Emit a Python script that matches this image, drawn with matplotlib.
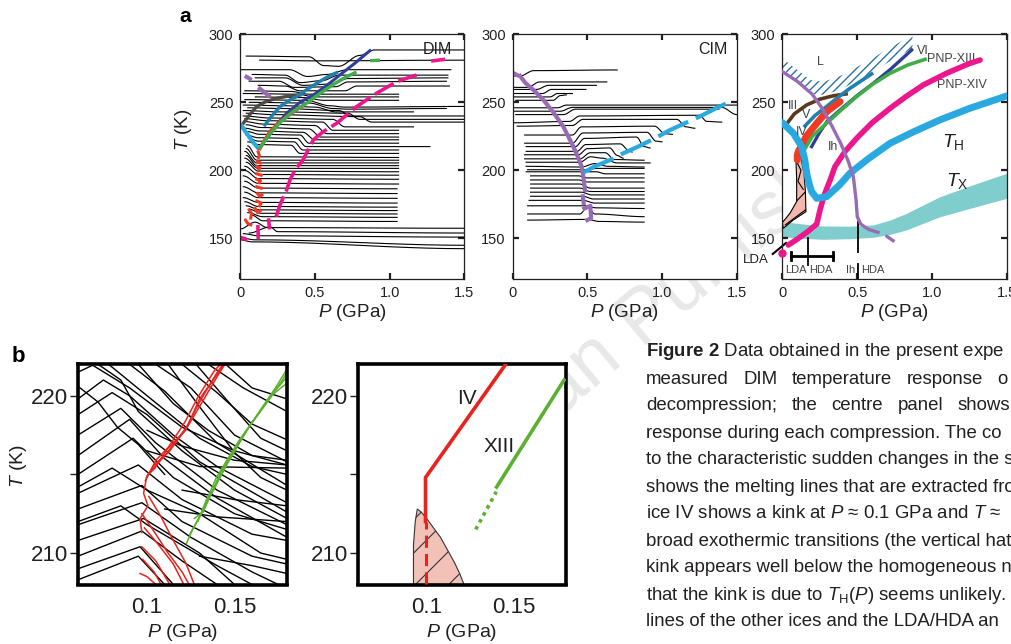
import numpy as np
import matplotlib
matplotlib.use('Agg')
import matplotlib.pyplot as plt
from matplotlib.patches import Polygon

plt.rcParams['font.family'] = ['Liberation Sans', 'DejaVu Sans']
plt.rcParams['mathtext.fontset'] = 'custom'
plt.rcParams['mathtext.rm'] = 'Liberation Sans'
plt.rcParams['mathtext.it'] = 'Liberation Sans:italic'
plt.rcParams['mathtext.bf'] = 'Liberation Sans:bold'
plt.rcParams['hatch.linewidth'] = 0.8

INK = '#231f20'
PURPLE = '#9a6bb5'; CYAN = '#2aa9e0'; TEAL = '#1f7fae'; NAVY = '#2f3f99'
GREEN = '#3fae49'; RED = '#ef3b24'; PINK = '#ec178c'; BROWN = '#5b3a1c'
DGRAY = '#4e4a44'; BAND = '#7fcdcd'; SALMON = '#f3b8ad'; LHATCH = '#2a72a4'
BRED = '#e8231e'; BGREEN = '#5cb030'; WMARK = '#e8e8e8'

# ---------------- data: panel a, DIM ----------------
dim_traces = [
    [(0.04, 284.0), (0.46, 283.5), (0.56, 277.0), (0.66, 276.5), (0.80, 284.5), (0.90, 288.5), (1.50, 288.5)],
    [(0.13, 281.0), (0.50, 280.5), (1.50, 281.0)],
    [(0.00, 274.0), (0.33, 274.0), (0.45, 269.0), (0.58, 270.5), (0.72, 274.0), (1.41, 274.0)],
    [(0.08, 270.5), (0.30, 270.0), (0.40, 264.5), (0.55, 266.0), (0.66, 270.0), (1.39, 270.0)],
    [(0.10, 268.0), (0.30, 268.0), (0.42, 262.5), (0.62, 263.5), (0.72, 267.5), (1.39, 268.0)],
    [(0.06, 265.5), (0.26, 265.5), (0.36, 261.0), (0.64, 261.5), (0.72, 265.0), (1.38, 265.5)],
    [(0.12, 262.5), (0.30, 262.0), (0.40, 258.5), (0.70, 258.5), (0.78, 262.0), (1.40, 262.0)],
    [(0.03, 258.5), (0.34, 258.0), (0.46, 256.0), (1.06, 256.0)],
    [(0.02, 256.5), (0.38, 256.0), (0.50, 254.0), (1.06, 254.0)],
    [(0.10, 254.0), (0.42, 253.5), (0.56, 251.5), (1.06, 251.5)],
    [(0.03, 252.0), (0.44, 251.5), (0.60, 247.5), (0.70, 246.5), (1.50, 247.0)],
    [(0.06, 250.0), (0.46, 249.5), (0.62, 245.5), (0.72, 245.0), (1.38, 245.5)],
    [(0.02, 248.0), (0.30, 247.5), (0.50, 246.5), (0.64, 243.0), (1.16, 243.0)],
    [(0.05, 246.0), (0.28, 245.5), (0.66, 244.0), (0.74, 240.0), (1.50, 240.0)],
    [(0.02, 244.0), (0.26, 243.0), (0.72, 242.0), (0.80, 237.5), (1.50, 237.5)],
    [(0.04, 242.0), (0.22, 241.0), (0.80, 239.5), (0.88, 235.5), (1.50, 235.5)],
    [(0.02, 240.0), (0.20, 238.5), (0.62, 237.5), (0.70, 232.0), (1.16, 232.0)],
    [(0.03, 238.0), (0.18, 236.5), (0.55, 235.5), (0.62, 229.5), (1.06, 229.5)],
    [(0.02, 236.0), (0.16, 234.0), (0.50, 233.0), (0.58, 227.0), (1.06, 227.0)],
    [(0.04, 233.5), (0.14, 231.5), (0.46, 230.5), (0.54, 224.5), (1.06, 224.5)],
    [(0.03, 231.0), (0.13, 229.0), (0.42, 228.0), (0.50, 222.5), (1.06, 222.5)],
    [(0.05, 228.5), (0.13, 226.5), (0.40, 226.0), (0.46, 220.0), (1.06, 220.0)],
    [(0.04, 226.0), (0.12, 224.0), (0.38, 223.5), (0.44, 217.5), (1.27, 217.5)],
    [(0.06, 223.5), (0.12, 221.5), (0.36, 221.0), (0.42, 215.0), (1.06, 215.0)],
    [(0.05, 221.0), (0.12, 219.0), (0.34, 218.5), (0.40, 212.5), (1.06, 212.5)],
    [(0.05, 218.0), (0.11, 210.0), (1.06, 209.5)],
    [(0.04, 216.0), (0.11, 207.5), (1.06, 207.5)],
    [(0.03, 214.0), (0.11, 205.5), (1.06, 205.5)],
    [(0.04, 211.0), (0.11, 203.5), (1.06, 203.5)],
    [(0.03, 209.0), (0.12, 201.5), (1.06, 201.5)],
    [(0.04, 206.0), (0.12, 199.5), (1.06, 199.0)],
    [(0.03, 203.0), (0.12, 197.0), (1.06, 196.5)],
    [(0.03, 200.0), (0.12, 194.0), (1.06, 193.5)],
    [(0.02, 196.0), (0.12, 190.5), (1.06, 190.0)],
    [(0.03, 192.0), (0.12, 187.0), (1.05, 186.5)],
    [(0.02, 188.0), (0.12, 183.5), (1.05, 183.0)],
    [(0.03, 184.0), (0.12, 180.0), (1.05, 179.5)],
    [(0.02, 180.0), (0.12, 176.5), (1.05, 176.0)],
    [(0.03, 177.0), (0.12, 173.5), (1.05, 173.0)],
    [(0.04, 174.0), (0.13, 171.0), (1.05, 170.5)],
    [(0.06, 171.5), (0.14, 168.5), (1.05, 168.0)],
    [(0.05, 169.0), (0.15, 166.0), (1.05, 165.5)],
    [(0.08, 167.0), (0.15, 163.0), (1.05, 162.5)],
    [(0.00, 157.0), (0.10, 162.0), (0.18, 158.0), (1.50, 157.5)],
    [(0.06, 154.0), (0.20, 158.5), (0.25, 155.0), (1.50, 154.0)],
    [(0.02, 153.5), (0.12, 152.0), (1.50, 151.0)],
    [(0.00, 150.5), (0.10, 149.0), (1.50, 145.0)],
    [(0.00, 149.0), (0.08, 147.5), (1.50, 142.5)],
]
dim_Ih_pieces = [[(0.03, 269.5), (0.076, 266.5)], [(0.12, 261.0), (0.20, 254.0)]]
dim_III_P = [0.02, 0.06, 0.109, 0.17, 0.243, 0.32, 0.40]
dim_III_T = [234.6, 240.5, 246.9, 250.5, 253.0, 254.5, 255.4]
dim_TH_P = [0.009, 0.042, 0.083, 0.121]
dim_TH_T = [232.7, 227.3, 221.1, 216.2]
dim_V_P = [0.165, 0.215, 0.266, 0.333, 0.377, 0.44, 0.511, 0.58, 0.645]
dim_V_T = [233.4, 240.5, 246.9, 251.8, 254.2, 259.0, 264.0, 268.5, 271.8]
dim_VI_P = [0.1875, 0.25, 0.31, 0.40, 0.489, 0.58, 0.667, 0.77, 0.868]
dim_VI_T = [224.8, 234.5, 242.0, 250.0, 255.4, 262.5, 270.1, 279.0, 288.0]
dim_IV_P = [0.132, 0.165, 0.199, 0.266, 0.33, 0.388, 0.41]
dim_IV_T = [216.2, 222.5, 228.5, 235.8, 241.0, 245.6, 246.9]
dim_IV_bits = [
    [(0.120, 213.5), (0.128, 211.0), (0.122, 209.5)],
    [(0.115, 206.5), (0.135, 205.5)],
    [(0.112, 203.0), (0.132, 202.0), (0.125, 200.5)],
    [(0.110, 197.5), (0.140, 196.5)],
    [(0.110, 193.5), (0.135, 192.5), (0.128, 191.0)],
    [(0.110, 188.0), (0.140, 187.0)],
    [(0.115, 183.0), (0.130, 181.0), (0.145, 182.0)],
    [(0.110, 177.5), (0.140, 176.0), (0.130, 174.0)],
    [(0.060, 171.0), (0.075, 168.5), (0.070, 165.0)],
    [(0.100, 172.0), (0.115, 169.0), (0.135, 170.5)],
    [(0.035, 163.5), (0.050, 161.0), (0.070, 160.0)],
]
dim_XIII_P = [0.132, 0.20, 0.266, 0.35, 0.444, 0.52, 0.60, 0.68, 0.768]
dim_XIII_T = [216.8, 227.0, 235.2, 243.0, 249.3, 255.5, 261.5, 267.0, 271.8]
dim_XIII_bits = [[(0.88, 280.7), (0.924, 280.9)]]
dim_XIV_P = [0.24, 0.266, 0.29, 0.31, 0.333, 0.366, 0.42, 0.489, 0.556, 0.645, 0.779, 0.913, 1.047, 1.18]
dim_XIV_T = [166.0, 174.6, 180.7, 185.6, 193.0, 200.3, 207.7, 222.4, 228.5, 234.6, 246.9, 256.7, 265.2, 270.1]
dim_XIV_bits = [[(0.009, 150.5), (0.035, 149.5)], [(0.118, 158.5), (0.120, 151.0)],
                [(0.19, 163.5), (0.195, 158.0)], [(1.29, 280.5), (1.36, 281.5)]]

# ---------------- data: panel a, CIM ----------------
cim_traces = [
    [(0.00, 269.4), (0.05, 269.4), (0.14, 273.3), (0.70, 273.8)],
    [(0.00, 261.0), (0.10, 261.0), (0.18, 265.0), (0.63, 265.0)],
    [(0.01, 259.5), (0.16, 259.5), (0.24, 262.5), (0.56, 262.5)],
    [(0.00, 256.5), (0.20, 256.5), (0.26, 259.5), (0.49, 259.5)],
    [(0.00, 254.0), (0.25, 254.0), (0.30, 256.5), (0.40, 256.5)],
    [(0.02, 251.5), (0.27, 251.5), (0.32, 255.0), (0.36, 255.5)],
    [(0.00, 246.0), (0.30, 246.0), (0.36, 248.0), (1.50, 248.0)],
    [(0.01, 243.5), (0.32, 243.5), (0.40, 246.3), (1.40, 246.3), (1.50, 241.0)],
    [(0.02, 241.0), (0.34, 241.0), (0.42, 245.0), (1.38, 245.0)],
    [(0.00, 235.0), (0.38, 236.0), (0.45, 240.0), (1.25, 240.5), (1.30, 236.0), (1.40, 235.5)],
    [(0.03, 232.5), (0.40, 233.0), (0.47, 237.5), (1.10, 237.5), (1.16, 232.0), (1.22, 231.0)],
    [(0.08, 226.0), (0.40, 226.0), (0.46, 232.0), (0.95, 232.5), (1.02, 227.0), (1.07, 226.5)],
    [(0.08, 220.0), (0.40, 220.0), (0.47, 227.5), (0.90, 228.0), (0.96, 221.5), (1.00, 221.0)],
    [(0.09, 217.5), (0.42, 217.5), (0.48, 223.5), (0.83, 224.5), (0.88, 217.5), (0.92, 216.5)],
    [(0.09, 214.0), (0.43, 214.0), (0.49, 219.0), (0.72, 219.5), (0.78, 214.5), (0.80, 213.5)],
    [(0.08, 211.5), (0.44, 211.5), (0.50, 216.0), (0.65, 216.5), (0.70, 211.0), (0.74, 209.0)],
    [(0.08, 208.5), (0.45, 208.5), (0.52, 213.0), (0.62, 213.0), (0.68, 208.0), (0.88, 207.5)],
    [(0.09, 206.0), (0.45, 206.0), (0.52, 210.0), (0.60, 209.0), (0.70, 205.5), (0.92, 205.5)],
    [(0.09, 203.0), (0.46, 202.5), (0.55, 205.0), (0.64, 203.0), (0.88, 202.5)],
    [(0.10, 200.5), (0.46, 200.5), (0.58, 201.5), (0.88, 201.5)],
    [(0.09, 199.0), (0.47, 199.0), (0.56, 199.0), (0.62, 197.5), (0.88, 197.5)],
    [(0.12, 196.0), (0.44, 196.0), (0.50, 194.5), (0.88, 194.5)],
    [(0.12, 193.0), (0.44, 193.0), (0.50, 191.5), (0.88, 191.5)],
    [(0.12, 190.0), (0.45, 190.0), (0.52, 187.0), (0.88, 187.0)],
    [(0.12, 187.0), (0.45, 187.0), (0.52, 184.5), (0.88, 184.5)],
    [(0.12, 184.0), (0.46, 184.0), (0.53, 182.0), (0.88, 182.0)],
    [(0.12, 181.0), (0.47, 181.0), (0.54, 179.0), (0.88, 179.0)],
    [(0.11, 178.0), (0.47, 178.0), (0.55, 176.0), (0.88, 176.0)],
    [(0.10, 174.0), (0.48, 174.0), (0.56, 172.5), (0.88, 172.0)],
    [(0.10, 168.0), (0.45, 168.0), (0.50, 173.0), (0.55, 168.0), (0.88, 166.0)],
    [(0.10, 163.5), (0.50, 164.0), (0.58, 162.5), (0.88, 162.0)],
]
cim_Ih_P = [0.049, 0.083, 0.15, 0.205, 0.27, 0.339, 0.406, 0.44, 0.462, 0.473, 0.484]
cim_Ih_T = [269.4, 264.5, 258.0, 251.8, 243.0, 232.2, 217.5, 209.0, 202.8, 195.4, 185.6]
cim_Ih_bits = [[(0.0, 271.8), (0.03, 270.0)], [(0.47, 181.0), (0.475, 176.0)],
               [(0.48, 172.0), (0.52, 174.0), (0.525, 165.0), (0.50, 163.5)]]
cim_TH_P = [0.473, 0.55, 0.65, 0.741, 0.85, 0.95, 1.054, 1.15, 1.25, 1.35, 1.455]
cim_TH_T = [198.4, 203.0, 207.5, 212.6, 218.0, 223.5, 229.7, 234.5, 239.5, 245.0, 250.5]

# ---------------- data: panel a, phase diagram ----------------
L_P = [0.0, 0.05, 0.10, 0.15, 0.20, 0.25, 0.30, 0.40, 0.50, 0.60, 0.70, 0.80, 0.87]
L_T = [272.6, 268.0, 264.0, 259.5, 256.0, 255.5, 256.0, 260.0, 266.0, 272.0, 279.0, 285.0, 290.0]
Ih_P = [0.0, 0.10, 0.20, 0.27, 0.33, 0.39, 0.44, 0.475, 0.493, 0.501, 0.524, 0.575, 0.64]
Ih_T = [272.6, 265.5, 256.0, 245.0, 233.0, 220.0, 207.0, 195.4, 178.3, 166.0, 160.6, 156.7, 154.5]
Ih_tail = [(0.70, 151.5), (0.74, 148.4)]
III_P = [0.029, 0.08, 0.163, 0.25, 0.34, 0.426]
III_T = [234.1, 241.5, 248.1, 252.3, 254.8, 256.2]
V_P = [0.152, 0.22, 0.296, 0.37, 0.452, 0.53, 0.597]
V_T = [232.7, 240.5, 246.9, 253.5, 260.3, 266.0, 270.9]
VI_P = [0.196, 0.25, 0.30, 0.386, 0.50, 0.608, 0.72, 0.865]
VI_T = [217.5, 228.0, 236.0, 244.4, 255.0, 264.0, 274.0, 288.5]
IV_P = [0.100, 0.100, 0.107, 0.16, 0.23, 0.30, 0.386]
IV_T = [207.7, 211.0, 213.8, 225.0, 234.6, 243.5, 250.5]
XIII_P = [0.140, 0.20, 0.296, 0.40, 0.497, 0.60, 0.72, 0.84, 0.954]
XIII_T = [213.8, 225.0, 234.6, 245.0, 254.2, 263.0, 271.3, 277.5, 281.6]
XIV_P = [0.04, 0.10, 0.17, 0.23, 0.25, 0.27, 0.285, 0.32, 0.352, 0.42, 0.497, 0.60, 0.72, 0.83, 0.943, 1.10, 1.25, 1.322]
XIV_T = [145.2, 149.5, 155.0, 160.6, 170.0, 178.0, 183.2, 193.0, 202.8, 214.0, 223.6, 235.0, 245.6, 254.5, 262.8, 271.5, 278.5, 281.1]
TH_P = [0.0, 0.074, 0.129, 0.15, 0.163, 0.18, 0.196, 0.23, 0.296, 0.38, 0.452, 0.58, 0.72, 0.88, 1.054, 1.25, 1.5]
TH_T = [235.1, 227.3, 217.5, 208.0, 197.9, 190.0, 184.4, 179.5, 180.7, 189.0, 197.9, 209.0, 219.9, 228.5, 237.1, 245.5, 254.7]
TX_P = [0.0, 0.15, 0.274, 0.45, 0.609, 0.72, 0.83, 1.054, 1.25, 1.5]
TX_hi = [162.4, 160.5, 159.2, 159.0, 160.0, 163.5, 168.5, 180.7, 188.5, 197.9]
TX_lo = [151.3, 150.0, 149.4, 149.8, 150.9, 153.0, 156.3, 166.0, 172.0, 179.5]
trans_P = [0.091, 0.123, 0.145, 0.154, 0.158, 0.074, 0.007, 0.0, 0.051, 0.096, 0.096]
trans_T = [208.9, 210.1, 197.9, 185.6, 169.7, 163.6, 157.5, 161.6, 168.5, 177.1, 193.0]
trans_lines = [[(0.098, 206.0), (0.125, 200.0), (0.105, 192.0), (0.14, 186.0)],
               [(0.10, 178.0), (0.152, 184.0)], [(0.02, 160.0), (0.155, 171.0)]]
LDA_point = (0.0, 139.5)
LDA_line = [(-0.064, 138.6), (0.025, 146.7)]
bar_P = [0.058, 0.341]; bar_T = 137.0
LDAHDA_line = [(0.17, 150.5), (0.17, 130.5)]
IhHDA_line = [(0.507, 162.0), (0.507, 140.0)]
IhHDA_tick = [(0.508, 131.0), (0.508, 120.0)]
a3_labels = [('L', 0.252, 280.0), ('III', 0.074, 247.4), ('V', 0.158, 240.7), ('IV', 0.129, 228.5),
             ('Ih', 0.337, 217.5)]

# ---------------- data: panel b ----------------
b1_black = [
    [(0.068, 222.0), (0.09, 220.5), (0.12, 218.0), (0.15, 216.5), (0.18, 215.6)],
    [(0.078, 222.0), (0.10, 220.0), (0.13, 217.3), (0.16, 215.5), (0.18, 215.0)],
    [(0.09, 222.0), (0.11, 220.3), (0.14, 217.0), (0.18, 214.3)],
    [(0.105, 222.0), (0.125, 220.5), (0.15, 217.5), (0.18, 215.8)],
    [(0.12, 222.0), (0.14, 220.2), (0.16, 218.2), (0.18, 217.2)],
    [(0.135, 222.0), (0.155, 220.5), (0.18, 219.0)],
    [(0.0605, 219.8), (0.075, 221.0), (0.09, 220.0), (0.115, 217.5), (0.14, 215.5), (0.18, 213.2)],
    [(0.0605, 218.8), (0.08, 220.2), (0.10, 218.8), (0.13, 215.8), (0.18, 212.6)],
    [(0.0605, 217.5), (0.085, 219.2), (0.105, 217.0), (0.14, 214.0), (0.18, 211.8)],
    [(0.0605, 216.2), (0.09, 218.5), (0.11, 216.0), (0.14, 213.5), (0.18, 211.0)],
    [(0.0605, 215.0), (0.092, 217.3), (0.115, 214.8), (0.15, 212.5), (0.18, 211.5)],
    [(0.0605, 213.8), (0.095, 215.6), (0.12, 213.4), (0.16, 211.2), (0.18, 210.8)],
    [(0.0605, 212.8), (0.097, 214.3), (0.12, 212.0), (0.16, 209.8), (0.18, 209.3)],
    [(0.0605, 211.8), (0.097, 213.2), (0.125, 211.0), (0.16, 208.8), (0.175, 208.0)],
    [(0.0605, 210.8), (0.098, 212.2), (0.13, 210.0), (0.15, 208.0)],
    [(0.0605, 209.8), (0.097, 211.4), (0.12, 209.5), (0.14, 208.0)],
    [(0.0605, 209.0), (0.096, 210.4), (0.115, 208.0)],
    [(0.0605, 208.3), (0.095, 209.8), (0.11, 208.0)],
    [(0.10, 216.5), (0.13, 215.5), (0.18, 215.4)],
    [(0.11, 212.8), (0.14, 212.3), (0.18, 212.0)],
    [(0.0605, 221.5), (0.07, 222.0)],
    [(0.072, 222.0), (0.085, 221.0), (0.095, 219.0), (0.12, 216.5), (0.15, 214.0), (0.18, 212.2)],
    [(0.095, 222.0), (0.115, 219.5), (0.135, 217.8), (0.16, 216.2), (0.18, 215.9)],
    [(0.112, 222.0), (0.13, 219.3), (0.15, 216.4), (0.165, 214.8), (0.18, 214.0)],
    [(0.128, 222.0), (0.145, 219.8), (0.165, 217.3), (0.18, 216.5)],
    [(0.145, 222.0), (0.16, 220.5), (0.18, 219.8)],
    [(0.0605, 220.6), (0.072, 219.6), (0.083, 218.0), (0.095, 216.9), (0.11, 215.0)],
    [(0.0605, 214.2), (0.08, 215.4), (0.10, 214.0), (0.13, 212.5), (0.165, 210.0), (0.18, 209.6)],
    [(0.0605, 212.0), (0.085, 213.0), (0.10, 211.8), (0.14, 209.2), (0.16, 208.0)],
    [(0.10, 217.8), (0.12, 216.8), (0.15, 215.9), (0.18, 215.6)],
    [(0.12, 214.0), (0.15, 213.4), (0.18, 213.0)],
    [(0.13, 209.8), (0.16, 209.2), (0.18, 208.7)],
]
b1_red = [
    [(0.0997, 214.8), (0.104, 215.6), (0.111, 216.3), (0.1225, 218.0), (0.130, 219.6), (0.1396, 221.4), (0.1433, 222.0)],
    [(0.0990, 214.6), (0.105, 215.9), (0.112, 216.7), (0.1215, 218.3), (0.129, 219.9), (0.1385, 221.6), (0.1420, 222.0)],
    [(0.1005, 215.0), (0.106, 215.7), (0.113, 216.5), (0.1235, 218.1), (0.131, 219.5), (0.1405, 221.3), (0.1445, 222.0)],
    [(0.1000, 214.9), (0.1045, 215.4), (0.1115, 216.6), (0.1220, 217.8), (0.1300, 219.8), (0.1390, 221.2), (0.1440, 222.0)],
    [(0.0997, 214.8), (0.098, 213.8), (0.1005, 213.0), (0.096, 212.2), (0.097, 211.3)],
    [(0.097, 212.5), (0.105, 211.2), (0.112, 210.0), (0.120, 208.8), (0.124, 208.0)],
    [(0.0985, 211.6), (0.106, 210.6), (0.115, 209.3), (0.121, 208.0)],
    [(0.097, 210.4), (0.105, 209.5), (0.113, 208.0)],
    [(0.0975, 209.6), (0.104, 208.8), (0.108, 208.0)],
    [(0.096, 208.7), (0.100, 208.5), (0.105, 208.0)],
    [(0.101, 213.6), (0.108, 212.3), (0.115, 210.8), (0.122, 209.4), (0.127, 208.0)],
]
b1_green = [
    [(0.1225, 210.6), (0.126, 211.5), (0.130, 212.3), (0.1396, 214.8), (0.1528, 217.2), (0.168, 219.5), (0.1775, 221.0), (0.180, 221.5)],
    [(0.1245, 211.2), (0.1285, 212.0), (0.1330, 212.9), (0.1420, 215.1), (0.1550, 217.5), (0.1700, 219.9), (0.1800, 221.2)],
    [(0.1270, 212.2), (0.1320, 212.6), (0.1360, 213.6), (0.1445, 215.4), (0.1575, 217.9), (0.1720, 220.1), (0.1800, 220.8)],
    [(0.1290, 212.0), (0.1340, 213.4), (0.1380, 214.0), (0.1470, 216.0), (0.1600, 218.3), (0.1740, 220.6), (0.1800, 221.7)],
]
b2_IV_solid_P = [0.0994, 0.0994, 0.1454]
b2_IV_solid_T = [212.0, 214.8, 222.0]
b2_IV_dash_P = [0.0994, 0.0994]
b2_IV_dash_T = [208.0, 212.0]
b2_XIII_P = [0.1402, 0.1789]
b2_XIII_T = [214.2, 221.0]
b2_XIII_dot_P = [0.1282, 0.1400]
b2_XIII_dot_T = [211.5, 213.9]
b2_region_P = [0.0925, 0.0925, 0.0935, 0.0947, 0.097, 0.100, 0.104, 0.108, 0.112, 0.116, 0.119, 0.1215]
b2_region_T = [208.0, 210.5, 212.0, 212.8, 212.6, 212.2, 211.6, 211.0, 210.2, 209.4, 208.7, 208.0]

caption_first = r'$\mathbf{Figure\ 2}$ Data obtained in the present expe'
caption_justified = {0: 1008, 1: 1010}
caption_lines = [
    'measured DIM temperature response o',
    'decompression; the centre panel shows',
    'response during each compression. The co',
    'to the characteristic sudden changes in the s',
    'shows the melting lines that are extracted fro',
    'ice IV shows a kink at $P$ \u2248 0.1 GPa and $T$ \u2248',
    'broad exothermic transitions (the vertical hat',
    'kink appears well below the homogeneous n',
    'that the kink is due to $T_{\\rm H}(P)$ seems unlikely. Th',
    'lines of the other ices and the LDA/HDA an',
]
watermark_left = 'millan'
watermark_right = 'Publishers'

# ---------------- helpers ----------------
W, H = 1011, 644
def box(l, t, r, b):
    return [l / W, 1 - b / H, (r - l) / W, (b - t) / H]

def smooth(pts, n=12):
    P, T = [], []
    for i in range(len(pts) - 1):
        pa, ta = pts[i]; pb, tb = pts[i + 1]
        s = np.linspace(0, 1, n)
        e = s * s * (3 - 2 * s)
        if i > 0:
            s = s[1:]; e = e[1:]
        P.extend(pa + (pb - pa) * s); T.extend(ta + (tb - ta) * e)
    return P, T

def seg(ax, pts, **kw):
    ax.plot([p for p, t in pts], [t for p, t in pts], **kw)

def style_a(ax):
    ax.set_xlim(0, 1.5); ax.set_ylim(120, 300)
    ax.set_xticks([0, 0.5, 1.0, 1.5]); ax.set_xticklabels(['0', '0.5', '1.0', '1.5'])
    ax.set_yticks([150, 200, 250, 300])
    ax.tick_params(direction='in', top=True, right=True, length=4, width=1.6,
                   labelsize=10.5, colors=INK, pad=5)
    for s in ax.spines.values():
        s.set_linewidth(0.9); s.set_color(INK)
    ax.set_xlabel('$P$ (GPa)', fontsize=13.5, color=INK, labelpad=1)

def style_b(ax):
    ax.set_xlim(0.0605, 0.18); ax.set_ylim(208, 222)
    ax.set_xticks([0.1, 0.15]); ax.set_xticklabels(['0.1', '0.15'])
    ax.set_yticks([210, 215, 220]); ax.set_yticklabels(['210', '', '220'])
    ax.tick_params(axis='y', direction='out', length=6, width=1, labelsize=16, colors=INK, pad=1)
    ax.tick_params(axis='x', length=0, labelsize=16, colors=INK, pad=9)
    for s in ax.spines.values():
        s.set_linewidth(2.6); s.set_color('black')
    ax.set_xlabel('$P$ (GPa)', fontsize=14, color=INK, labelpad=3)

fig = plt.figure(figsize=(10.11, 6.44), dpi=100)

# ---------------- faint watermark behind the panels ----------------
ang = 40.0
bx, by = 640.0, 345.0
fig.text(bx / W, 1 - by / H, watermark_right, rotation=ang, rotation_mode='anchor',
         ha='left', va='baseline', fontsize=55, color=WMARK, zorder=-5)
fig.text((bx - 16) / W, 1 - (by + 14) / H, watermark_left, rotation=ang, rotation_mode='anchor',
         ha='right', va='baseline', fontsize=55, color=WMARK, zorder=-5)

# ---------------- a1: DIM ----------------
a1 = fig.add_axes(box(240.3, 34.3, 464.3, 279.3))
style_a(a1)
a1.set_ylabel('$T$ (K)', fontsize=13.5, color=INK)
a1.yaxis.set_label_coords(-0.205, 0.61)
for tr in dim_traces:
    P, T = smooth(tr); a1.plot(P, T, color='black', lw=0.8)
for pc in dim_Ih_pieces:
    seg(a1, pc, color=PURPLE, lw=3, solid_capstyle='butt')
a1.plot(dim_III_P, dim_III_T, color=DGRAY, lw=2.4)
a1.plot(dim_TH_P, dim_TH_T, color=CYAN, lw=3)
a1.plot(dim_V_P, dim_V_T, color=TEAL, lw=2.4)
a1.plot(dim_VI_P, dim_VI_T, color=NAVY, lw=2.2)
a1.plot(dim_IV_P, dim_IV_T, color=RED, lw=2.6)
for pc in dim_IV_bits:
    seg(a1, pc, color=RED, lw=2.2)
a1.plot(dim_XIII_P, dim_XIII_T, color=GREEN, lw=2.4)
for pc in dim_XIII_bits:
    seg(a1, pc, color=GREEN, lw=2.4)
a1.plot(dim_XIV_P, dim_XIV_T, color=PINK, lw=2.6, dashes=(6, 1.5))
for pc in dim_XIV_bits:
    seg(a1, pc, color=PINK, lw=2.6)
a1.text(1.42, 289, 'DIM', ha='right', va='center', fontsize=11.5, color=INK)

# ---------------- a2: CIM ----------------
a2 = fig.add_axes(box(512.7, 34.3, 736.7, 279.3))
style_a(a2)
for tr in cim_traces:
    P, T = smooth(tr); a2.plot(P, T, color='black', lw=0.8)
a2.plot(cim_Ih_P, cim_Ih_T, color=PURPLE, lw=3)
for pc in cim_Ih_bits:
    seg(a2, pc, color=PURPLE, lw=3)
a2.plot(cim_TH_P, cim_TH_T, color=CYAN, lw=3, dashes=(8, 2))
a2.text(1.44, 288.5, 'CIM', ha='right', va='center', fontsize=11.5, color=INK)

# ---------------- a3: phase diagram ----------------
a3 = fig.add_axes(box(782.3, 34.3, 1006.7, 279.3))
style_a(a3)
a3.fill_between(TX_P, TX_lo, TX_hi, color=BAND, lw=0, zorder=1)
with plt.rc_context({'hatch.linewidth': 1.0}):
    a3.fill_between(L_P, L_T, [t + 10 for t in L_T], facecolor='none', edgecolor=LHATCH,
                    hatch='////', lw=0, zorder=1)
a3.add_patch(Polygon(list(zip(trans_P, trans_T)), closed=True, facecolor=SALMON,
                     edgecolor='black', lw=0.8, zorder=2))
for pc in trans_lines:
    seg(a3, pc, color='black', lw=0.8, zorder=2)
a3.plot(III_P, III_T, color=BROWN, lw=2.6, zorder=3)
a3.plot(V_P, V_T, color=TEAL, lw=2.6, zorder=3)
a3.plot(VI_P, VI_T, color=NAVY, lw=2.4, zorder=3)
a3.plot(XIII_P, XIII_T, color=GREEN, lw=2.6, zorder=3)
a3.plot(IV_P, IV_T, color=RED, lw=5, zorder=4, solid_capstyle='round')
a3.plot(XIV_P, XIV_T, color=PINK, lw=4, zorder=4, solid_capstyle='round')
a3.plot(TH_P, TH_T, color=CYAN, lw=5, zorder=4, solid_capstyle='round')
a3.plot(Ih_P, Ih_T, color=PURPLE, lw=2.4, zorder=5)
seg(a3, Ih_tail, color=PURPLE, lw=2.4, zorder=5)
a3.plot(*LDA_point, 'o', color=PINK, ms=5, clip_on=False, zorder=6)
seg(a3, LDA_line, color='black', lw=1.5, clip_on=False)
a3.plot(bar_P, [bar_T, bar_T], color='black', lw=2)
for p in bar_P:
    a3.plot([p, p], [bar_T - 3, bar_T + 3], color='black', lw=2)
seg(a3, LDAHDA_line, color='black', lw=1.3)
seg(a3, IhHDA_line, color='black', lw=1.3)
seg(a3, IhHDA_tick, color='black', lw=1.3)
a3.text(-0.09, 134.0, 'LDA', ha='right', va='center', fontsize=9.5, color=INK, clip_on=False)
a3.text(0.165, 126.8, 'LDA', ha='right', va='center', fontsize=8, color='#444444')
a3.text(0.178, 126.8, 'HDA', ha='left', va='center', fontsize=8, color='#444444')
a3.text(0.49, 126.8, 'Ih', ha='right', va='center', fontsize=8, color='#444444')
a3.text(0.53, 126.8, 'HDA', ha='left', va='center', fontsize=8, color='#444444')
for s, p, t in a3_labels:
    a3.text(p, t, s, ha='center', va='center', fontsize=9, color='#444444', zorder=6)
a3.text(0.90, 287.5, 'VI', ha='left', va='center', fontsize=9, color='#444444')
a3.text(0.965, 281.6, 'PNP-XIII', ha='left', va='center', fontsize=9, color='#444444')
a3.text(1.20, 263.0, 'PNP-XIV', ha='center', va='center', fontsize=9, color='#444444')
a3.text(1.14, 221.0, '$T_{\\rm H}$', ha='center', va='center', fontsize=14, color=INK)
a3.text(1.17, 192.0, '$T_{\\rm X}$', ha='center', va='center', fontsize=14, color=INK)

fig.text(185 / W, 1 - 17 / H, 'a', fontsize=15, fontweight='bold', ha='center', va='center')

# ---------------- b1 ----------------
b1 = fig.add_axes(box(78, 364.3, 287, 584.5))
style_b(b1)
b1.set_ylabel('$T$ (K)', fontsize=14, color=INK)
b1.yaxis.set_label_coords(-0.235, 0.54)
for tr in b1_black:
    seg(b1, tr, color='black', lw=1.0)
for tr in b1_red:
    seg(b1, tr, color=BRED, lw=1.1)
for tr in b1_green:
    seg(b1, tr, color=BGREEN, lw=1.1)

# ---------------- b2 ----------------
b2 = fig.add_axes(box(357.7, 364.3, 566, 584.5))
style_b(b2)
b2.add_patch(Polygon(list(zip(b2_region_P, b2_region_T)), closed=True, facecolor='#f2c2b8',
                     edgecolor='#333333', lw=0.8, hatch='/', zorder=1))
b2.plot(b2_IV_solid_P, b2_IV_solid_T, color=BRED, lw=2.6, zorder=3)
b2.plot(b2_IV_dash_P, b2_IV_dash_T, color=BRED, lw=2.2, dashes=(4, 2), zorder=3)
b2.plot(b2_XIII_P, b2_XIII_T, color=BGREEN, lw=2.6, zorder=3)
b2.plot(b2_XIII_dot_P, b2_XIII_dot_T, color=BGREEN, lw=2.6, dashes=(1, 1.2), zorder=3)
b2.text(0.1234, 219.8, 'IV', ha='center', va='center', fontsize=15, color=INK)
b2.text(0.1416, 216.8, 'XIII', ha='center', va='center', fontsize=15, color=INK)

fig.text(18 / W, 1 - 356 / H, 'b', fontsize=16, fontweight='bold', ha='center', va='center')

# ---------------- caption ----------------
CFS = 13.4
x0 = 646
fig.text(x0 / W, 1 - 352 / H, caption_first, fontsize=CFS, color=INK, va='center')
renderer = fig.canvas.get_renderer()
for i, line in enumerate(caption_lines):
    y = 1 - (352 + 27 * (i + 1)) / H
    if i in caption_justified:
        words = line.split(' ')
        right = caption_justified[i]
        arts = [fig.text(0, y, w, fontsize=CFS, color=INK, va='center') for w in words]
        widths = [a.get_window_extent(renderer).width for a in arts]
        gap = (right - x0 - sum(widths)) / (len(words) - 1)
        x = x0
        for a, wd in zip(arts, widths):
            a.set_x(x / W); x += wd + gap
    else:
        fig.text(x0 / W, y, line, fontsize=CFS, color=INK, va='center')

fig.savefig('out.png', dpi=100)
